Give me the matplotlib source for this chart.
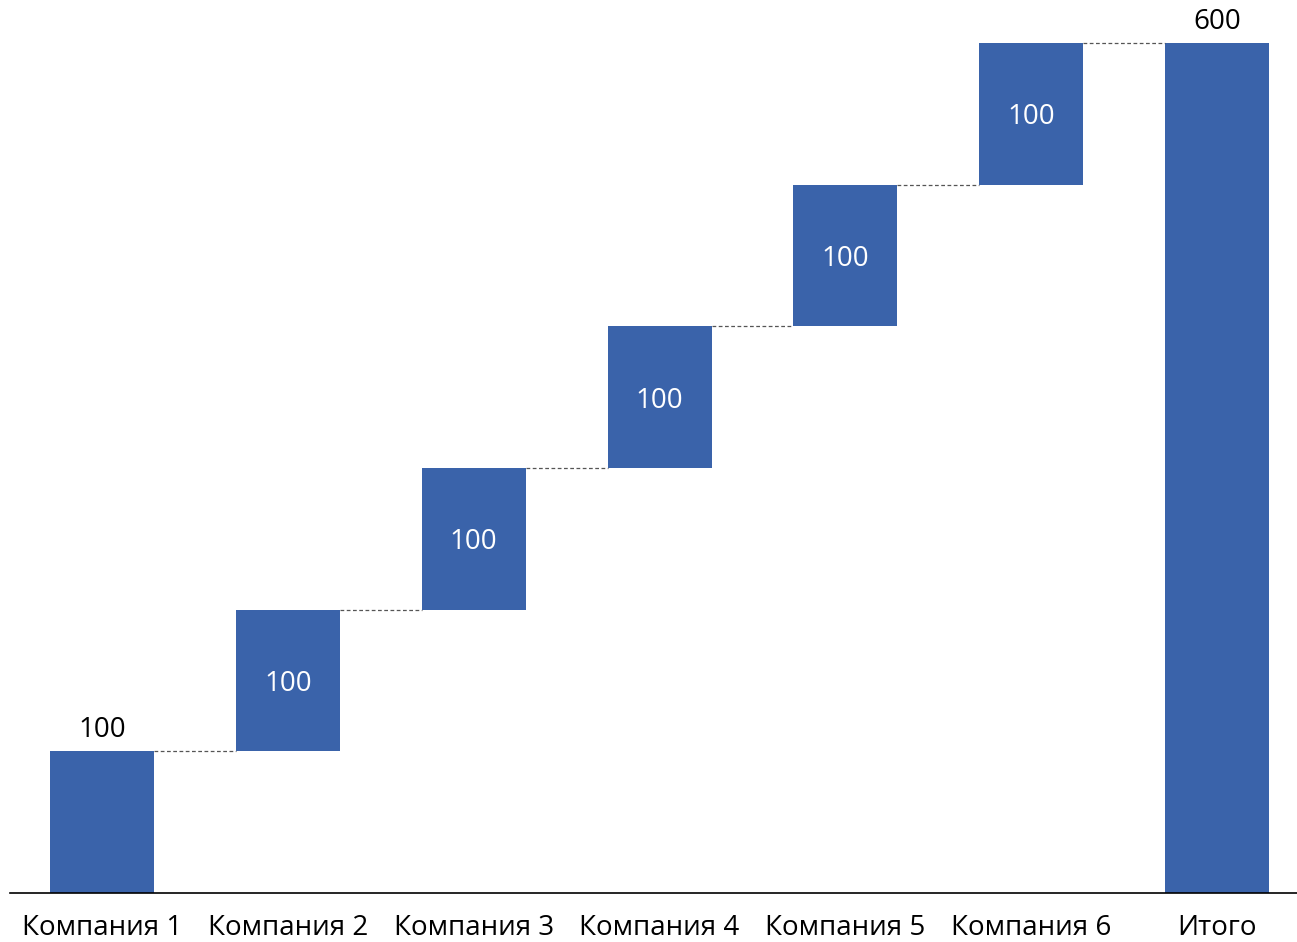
import matplotlib.pyplot as plt

plt.rcParams['font.family'] = ['Open Sans', 'DejaVu Sans']

categories = ['Компания 1', 'Компания 2', 'Компания 3', 'Компания 4',
              'Компания 5', 'Компания 6', 'Итого']
values = [100, 100, 100, 100, 100, 100]

bar_color = '#3A63AA'
width = 0.56

fig = plt.figure(figsize=(12.97, 9.42), dpi=100)
ax = fig.add_axes([10 / 1297, 49 / 942, 1287 / 1297, 893 / 942])

# накопленные значения для ступенек
bottoms = []
total = 0
for v in values:
    bottoms.append(total)
    total += v

x = list(range(len(categories)))
ax.bar(x[:-1], values, bottom=bottoms, width=width, color=bar_color)
ax.bar(x[-1], total, width=width, color=bar_color)

# пунктирные соединения
tops = [b + v for b, v in zip(bottoms, values)] + [total]
for i in range(len(categories) - 1):
    ax.plot([x[i] + width / 2, x[i + 1] - width / 2], [tops[i], tops[i]],
            linestyle=(0, (3, 2)), color='#555555', linewidth=0.9)

# подписи
fs = 20
ax.text(x[0], tops[0] + 5, str(values[0]), ha='center', va='bottom', fontsize=fs)
for i in range(1, len(values)):
    ax.annotate(str(values[i]), (x[i], bottoms[i] + values[i] / 2),
                xytext=(0, -2.5), textcoords='offset points',
                ha='center', va='center', fontsize=fs, color='white')
ax.text(x[-1], total + 5, str(total), ha='center', va='bottom', fontsize=fs)

ax.set_xlim(-0.495, 6.43)
ax.set_ylim(0, 630.4)
ax.set_xticks(x)
ax.set_xticklabels(categories, fontsize=fs)
ax.tick_params(axis='x', length=0, pad=15)
ax.set_yticks([])
for s in ['top', 'right', 'left']:
    ax.spines[s].set_visible(False)
ax.spines['bottom'].set_linewidth(1.2)

fig.savefig('out.png', dpi=100)
